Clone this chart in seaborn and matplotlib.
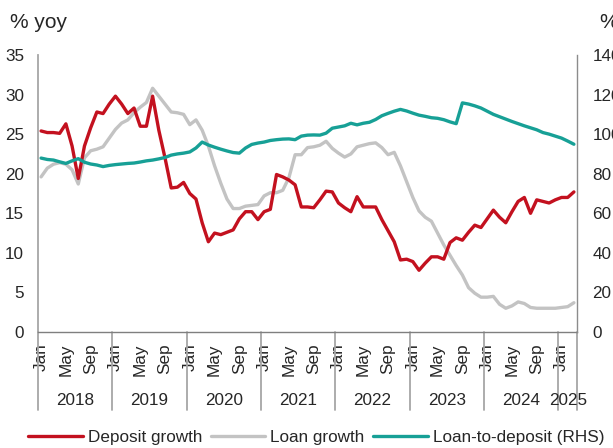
import numpy as np
import pandas as pd
import matplotlib
matplotlib.use("Agg")
import matplotlib.pyplot as plt
import matplotlib.transforms as mtransforms
import seaborn as sns

# Monthly series, Jan 2018 - Mar 2025
start_month = "2018-01"

deposit_growth = [
    25.4, 25.2, 25.2, 25.1, 26.3, 23.5, 19.4, 23.5, 25.8, 27.8, 27.6, 28.8,
    29.8, 28.8, 27.6, 28.3, 26.0, 26.0, 29.8, 25.5, 22.0, 18.2, 18.3, 18.9,
    17.5, 16.8, 13.8, 11.4, 12.5, 12.3, 12.6, 12.9, 14.3, 15.2, 15.2, 14.2,
    15.2, 15.5, 19.9, 19.6, 19.2, 18.6, 15.8, 15.8, 15.7, 16.7, 17.8, 17.7,
    16.3, 15.7, 15.2, 17.1, 15.8, 15.8, 15.8, 14.2, 12.8, 11.4, 9.1, 9.2,
    8.9, 7.8, 8.7, 9.5, 9.5, 9.2, 11.3, 11.9, 11.6, 12.6, 13.5, 13.2,
    14.3, 15.4, 14.5, 13.8, 15.2, 16.5, 17.0, 15.0, 16.7, 16.5, 16.3, 16.7,
    17.0, 17.0, 17.7,
]

loan_growth = [
    19.6, 20.7, 21.2, 21.4, 21.2, 20.5, 18.7, 22.0, 22.9, 23.1, 23.4, 24.5,
    25.6, 26.4, 26.8, 27.7, 28.4, 29.0, 30.8, 29.8, 28.8, 27.8, 27.7, 27.5,
    26.2, 26.8, 25.5, 23.5, 21.0, 18.8, 16.8, 15.6, 15.6, 15.9, 16.0, 16.1,
    17.2, 17.6, 17.6, 17.9, 19.5, 22.4, 22.4, 23.3, 23.4, 23.6, 24.1, 23.2,
    22.6, 22.1, 22.5, 23.4, 23.6, 23.8, 23.9, 23.3, 22.4, 22.7, 21.0, 19.0,
    17.0, 15.3, 14.5, 14.0, 12.5, 11.0, 9.7, 8.4, 7.2, 5.6, 4.9, 4.4,
    4.4, 4.5, 3.5, 3.0, 3.3, 3.8, 3.6, 3.1, 3.0, 3.0, 3.0, 3.0,
    3.1, 3.2, 3.7,
]

loan_to_deposit = [
    87.9, 87.2, 86.9, 86.0, 85.2, 86.5, 87.6, 85.8, 84.9, 84.4, 83.6, 84.2,
    84.6, 84.9, 85.2, 85.4, 85.9, 86.5, 86.9, 87.5, 88.2, 89.4, 90.0, 90.4,
    91.0, 93.0, 96.0, 94.5, 93.4, 92.4, 91.5, 90.7, 90.4, 93.0, 94.8, 95.5,
    96.0, 96.8, 97.2, 97.5, 97.6, 97.2, 99.0, 99.5, 99.6, 99.5, 100.5, 103.0,
    103.6, 104.2, 105.5, 104.7, 105.5, 106.0, 107.4, 109.3, 110.5, 111.6, 112.5, 111.7,
    110.6, 109.6, 109.0, 108.3, 108.0, 107.3, 106.2, 105.3, 115.8, 115.2, 114.3, 113.2,
    111.6, 110.0, 108.8, 107.6, 106.4, 105.3, 104.2, 103.2, 102.2, 100.8, 100.0, 99.0,
    98.0, 96.5, 94.9,
]

series_labels = ["Deposit growth", "Loan growth", "Loan-to-deposit (RHS)"]
month_tick_labels = ["Jan", "May", "Sep"]
left_ticks = [0, 5, 10, 15, 20, 25, 30, 35]
right_ticks = [0, 20, 40, 60, 80, 100, 120, 140]
unit_label = "% yoy"

RED = "#C3111F"
GREY = "#C3C3C3"
TEAL = "#17A096"
AXIS_GREY = "#A6A6A6"
TEXT = "#262626"
FS = 12.3

sns.set_theme(style="white")
plt.rcParams["font.family"] = ["Liberation Sans", "DejaVu Sans"]

periods = pd.period_range(start_month, periods=len(deposit_growth), freq="M")
df = pd.DataFrame({
    "idx": np.arange(len(periods)),
    "year": periods.year,
    "month": periods.month,
    "deposit": deposit_growth,
    "loan": loan_growth,
    "ldr": loan_to_deposit,
})

W, H = 613, 448
fig = plt.figure(figsize=(W / 100, H / 100), dpi=100)
ax_l, ax_r, ax_t, ax_b = 38, 577, 55, 332
ax = fig.add_axes([ax_l / W, 1 - ax_b / H, (ax_r - ax_l) / W, (ax_b - ax_t) / H])
ax2 = ax.twinx()

lw = 2.4
sns.lineplot(data=df, x="idx", y="deposit", ax=ax, color=RED, lw=lw,
             label=series_labels[0], solid_joinstyle="round", zorder=3)
sns.lineplot(data=df, x="idx", y="loan", ax=ax, color=GREY, lw=lw,
             label=series_labels[1], solid_joinstyle="round", zorder=2)
sns.lineplot(data=df, x="idx", y="ldr", ax=ax2, color=TEAL, lw=lw,
             label=series_labels[2], solid_joinstyle="round")

n = len(df)
ax.set_xlim(-0.5, n - 0.5)
ax.set_ylim(left_ticks[0], left_ticks[-1])
ax2.set_ylim(right_ticks[0], right_ticks[-1])
ax.set_yticks(left_ticks)
ax2.set_yticks(right_ticks)
ax.set_xlabel("")
ax.set_ylabel("")
ax2.set_ylabel("")

# month ticks: Jan / May / Sep
month_num = {"Jan": 1, "May": 5, "Sep": 9}
name_of = {v: k for k, v in month_num.items()}
tick_rows = df[df["month"].isin([month_num[m] for m in month_tick_labels])]
ax.set_xticks(tick_rows["idx"].tolist())
ax.set_xticklabels([name_of[m] for m in tick_rows["month"]], rotation=90,
                   fontsize=FS, color=TEXT)
ax.tick_params(axis="x", length=0, pad=8)
ax.tick_params(axis="y", length=0, pad=10, labelsize=FS, labelcolor=TEXT)
ax2.tick_params(axis="y", length=0, pad=11, labelsize=FS, labelcolor=TEXT)

for a in (ax, ax2):
    a.spines["top"].set_visible(False)
ax.spines["right"].set_visible(False)
ax2.spines["left"].set_visible(False)
ax2.spines["bottom"].set_visible(False)
ax.spines["left"].set_color(AXIS_GREY)
ax.spines["left"].set_linewidth(1.3)
ax2.spines["right"].set_color("#8C8C8C")
ax2.spines["right"].set_linewidth(1.0)
ax.spines["bottom"].set_color("#7F7F7F")
ax.spines["bottom"].set_linewidth(1.0)

# year grouping row with separators
trans = mtransforms.blended_transform_factory(ax.transData, ax.transAxes)
axis_h = ax_b - ax_t
sep_bottom = -(410 - ax_b) / axis_h
year_y = -(400 - ax_b) / axis_h
groups = df.groupby("year")["idx"]
bounds = [groups.min().iloc[0] - 0.5] + [v + 0.5 for v in groups.max()]
for b in bounds:
    ax.plot([b, b], [0, sep_bottom], transform=trans, color=AXIS_GREY,
            lw=1.3, clip_on=False, zorder=1)
for yr, lo, hi in zip(groups.min().index, groups.min(), groups.max()):
    ax.text((lo + hi) / 2, year_y, str(yr), transform=trans, ha="center",
            va="center", fontsize=FS, color=TEXT)

# unit labels above both axes
fig.text(10 / W, 1 - 22 / H, unit_label, fontsize=15, color=TEXT, va="center")
fig.text(600 / W, 1 - 22 / H, unit_label, fontsize=15, color=TEXT, va="center")

# shared legend along the bottom
h1, l1 = ax.get_legend_handles_labels()
h2, l2 = ax2.get_legend_handles_labels()
ax.get_legend().remove()
ax2.get_legend().remove()
fig.legend(h1 + h2, l1 + l2, loc="center left", bbox_to_anchor=(28 / W, 1 - 437 / H),
           ncol=3, frameon=False, fontsize=FS, handlelength=3.2,
           handletextpad=0.3, columnspacing=0.5, borderpad=0, borderaxespad=0,
           labelcolor=TEXT)

fig.savefig("out.png", dpi=100)
